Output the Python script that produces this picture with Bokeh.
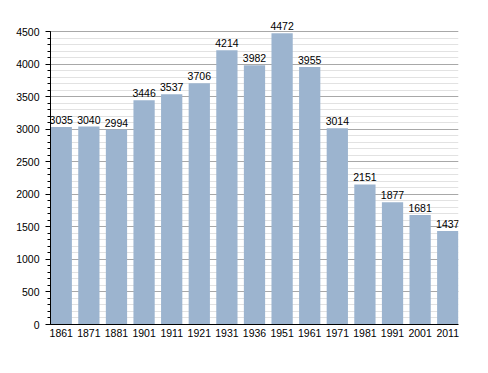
from bokeh.plotting import figure
from bokeh.models import ColumnDataSource, Range1d, FixedTicker, SingleIntervalTicker, LabelSet
from bokeh.embed import file_html
from bokeh.resources import INLINE
from bokeh.core.properties import value

years = ["1861", "1871", "1881", "1901", "1911", "1921", "1931", "1936", "1951", "1961", "1971", "1981", "1991", "2001", "2011"]
population = [3035, 3040, 2994, 3446, 3537, 3706, 4214, 3982, 4472, 3955, 3014, 2151, 1877, 1681, 1437]

idx = list(range(len(years)))
src = ColumnDataSource(dict(x=idx, top=population, label=[str(v) for v in population]))

y_top = 4500
y_extra = 4700

p = figure(frame_width=408, frame_height=306, min_border_left=50, min_border_top=18,
           min_border_right=14, min_border_bottom=30,
           x_range=Range1d(-0.39, len(years) - 1 + 0.39), y_range=Range1d(0, y_extra),
           output_backend="svg", toolbar_location=None)
p.outline_line_color = None
p.background_fill_color = "white"

p.vbar(x="x", top="top", width=0.77, source=src, fill_color="#9cb4cf", line_color=None)
labels = LabelSet(x="x", y="top", text="label", source=src, text_align="center", text_baseline="bottom",
                  y_offset=3, text_font=value("Liberation Sans"), text_font_size=value("10.5px"),
                  text_color="black")
p.add_layout(labels)

p.xaxis.ticker = FixedTicker(ticks=idx)
p.xaxis.major_label_overrides = {i: y for i, y in zip(idx, years)}
p.xaxis.major_tick_line_color = None
p.xaxis.major_tick_out = 0
p.xaxis.major_tick_in = 0
p.xaxis.minor_tick_line_color = None
p.xaxis.axis_line_color = "black"
p.xaxis.major_label_standoff = 4

p.yaxis.ticker = SingleIntervalTicker(interval=500, num_minor_ticks=5)
p.yaxis.bounds = (0, y_top)
p.yaxis.major_tick_out = 5
p.yaxis.major_tick_in = 0
p.yaxis.minor_tick_out = 3
p.yaxis.minor_tick_in = 0
p.yaxis.axis_line_color = "black"
p.yaxis.major_label_standoff = 6

for ax in (p.xaxis, p.yaxis):
    ax.major_label_text_font = "Liberation Sans"
    ax.major_label_text_font_size = "10.5px"
    ax.major_label_text_color = "black"

p.xgrid.grid_line_color = None
p.ygrid.bounds = (0, y_top)
p.ygrid.grid_line_color = "#a8a8a8"
p.ygrid.minor_grid_line_color = "#e2e2e2"
p.ygrid.level = "underlay"

open("out.html", "w").write(file_html(p, INLINE))
